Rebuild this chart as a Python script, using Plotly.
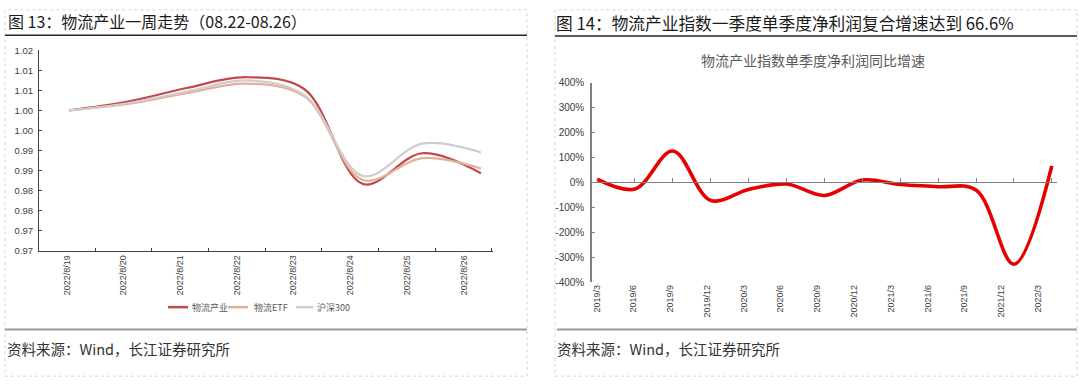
import plotly.graph_objects as go

# ---------------- data ----------------
dates_l = ["2022/8/19", "2022/8/20", "2022/8/21", "2022/8/22",
           "2022/8/23", "2022/8/24", "2022/8/25", "2022/8/26"]
logistics_ind = [1.005, 1.0072, 1.0106, 1.0133, 1.0103, 0.9866, 0.9943, 0.9893]
logistics_etf = [1.005, 1.0066, 1.0093, 1.0117, 1.0085, 0.9876, 0.9931, 0.9905]
hs300 = [1.005, 1.0068, 1.0097, 1.0125, 1.0088, 0.9886, 0.9967, 0.9945]
ytick_vals_l = [0.97, 0.975, 0.98, 0.985, 0.99, 0.995, 1.00, 1.005, 1.01, 1.015, 1.02]
ytick_text_l = ["0.97", "0.97", "0.98", "0.98", "0.99", "0.99", "1.00", "1.00", "1.01", "1.01", "1.02"]

quarters = ["2019/3", "2019/6", "2019/9", "2019/12", "2020/3", "2020/6", "2020/9",
            "2020/12", "2021/3", "2021/6", "2021/9", "2021/12", "2022/3"]
profit_growth = [13, -26, 126, -72, -28, -6, -52, 10, -8, -17, -30, -328, 66.6]
ytick_vals_r = [-400, -300, -200, -100, 0, 100, 200, 300, 400]
ytick_text_r = ["-400%", "-300%", "-200%", "-100%", "0%", "100%", "200%", "300%", "400%"]

series_l = [("物流产业", logistics_ind, "#C4484A"),
            ("物流ETF", logistics_etf, "#E3B09C"),
            ("沪深300", hs300, "#CDCDCD")]

W, H = 1080, 386
def px(x): return x / W
def py(y): return 1 - y / H

CJK = "Noto Sans CJK SC"
LAT = "Liberation Sans, Arial"

fig = go.Figure()

# ---------------- left chart ----------------
for name, vals, col in series_l:
    fig.add_trace(go.Scatter(x=dates_l, y=vals, name=name, mode="lines",
                             line=dict(color=col, width=2.2, shape="spline", smoothing=1.0),
                             xaxis="x", yaxis="y", showlegend=False, hoverinfo="skip"))
# label axis carrier (invisible)
fig.add_trace(go.Scatter(x=dates_l, y=logistics_ind, mode="markers", marker=dict(opacity=0),
                         xaxis="x3", yaxis="y", showlegend=False, hoverinfo="skip"))

# ---------------- right chart ----------------
fig.add_trace(go.Scatter(x=quarters, y=profit_growth, mode="lines",
                         line=dict(color="#E60000", width=3.6, shape="spline", smoothing=1.0),
                         xaxis="x2", yaxis="y2", showlegend=False, hoverinfo="skip"))
fig.add_trace(go.Scatter(x=quarters, y=profit_growth, mode="markers", marker=dict(opacity=0),
                         xaxis="x4", yaxis="y2", showlegend=False, hoverinfo="skip"))

yl0, yl1 = py(251.7), py(45.7)
yr0, yr1 = py(284.3), py(79)

fig.update_layout(
    width=W, height=H, margin=dict(l=0, r=0, t=0, b=0),
    paper_bgcolor="white", plot_bgcolor="rgba(0,0,0,0)",
    font=dict(family=LAT, color="#404040"),
    xaxis=dict(domain=[px(39), px(493)], anchor="y", type="category",
               range=[-0.51, 7.204], visible=False),
    xaxis3=dict(domain=[px(39), px(493)], anchor="y", overlaying="x", type="category",
                range=[-0.489, 7.518], tickson="boundaries", ticks="inside", ticklen=3,
                tickcolor="#404040", showline=True, linecolor="#404040", linewidth=1,
                tickangle=-90, tickfont=dict(size=9, color="#404040", family=LAT),
                showgrid=False, zeroline=False),
    yaxis=dict(domain=[yl0, yl1], anchor="x", range=[0.97, 1.02],
               tickmode="array", tickvals=ytick_vals_l, ticktext=ytick_text_l,
               ticks="inside", ticklen=3, tickcolor="#404040", ticklabelstandoff=3,
               showline=True, linecolor="#404040", linewidth=1,
               tickfont=dict(size=9.5, color="#404040", family=LAT),
               showgrid=False, zeroline=False),
    xaxis2=dict(domain=[px(592), px(1057)], anchor="free", position=(yr0 + yr1) / 2,
                type="category", range=[-0.132, 12.137], showline=True,
                linecolor="#808080", linewidth=1.2, ticks="inside", ticklen=4,
                tickcolor="#808080", showticklabels=False, showgrid=False, zeroline=False),
    xaxis4=dict(domain=[px(592), px(1057)], anchor="y2", overlaying="x2", type="category",
                range=[-0.128, 12.52], showline=False, ticks="", tickangle=-90,
                tickfont=dict(size=9, color="#404040", family=LAT),
                showgrid=False, zeroline=False),
    yaxis2=dict(domain=[yr0, yr1], anchor="x2", range=[-400, 400],
                tickmode="array", tickvals=ytick_vals_r, ticktext=ytick_text_r,
                ticks="inside", ticklen=3, tickcolor="#808080", ticklabelstandoff=4,
                showline=True, linecolor="#808080", linewidth=1.5,
                tickfont=dict(size=10, color="#404040", family=LAT),
                showgrid=False, zeroline=False),
)

shapes = []
# panel borders (dashed)
for x0, x1 in [(5, 527), (555, 1077)]:
    shapes.append(dict(type="rect", xref="paper", yref="paper", x0=px(x0), x1=px(x1),
                       y0=py(381), y1=py(4), line=dict(color="#D4D4D4", width=1, dash="dot")))
# title underlines
shapes.append(dict(type="line", xref="paper", yref="paper", x0=px(5), x1=px(527),
                   y0=py(30), y1=py(30), line=dict(color="#262626", width=1.5)))
shapes.append(dict(type="line", xref="paper", yref="paper", x0=px(555), x1=px(1077),
                   y0=py(31), y1=py(31), line=dict(color="#262626", width=1.5)))
# source separators
shapes.append(dict(type="line", xref="paper", yref="paper", x0=px(5), x1=px(527),
                   y0=py(333), y1=py(333), line=dict(color="#9A9A9A", width=2)))
shapes.append(dict(type="line", xref="paper", yref="paper", x0=px(557), x1=px(1077),
                   y0=py(333), y1=py(333), line=dict(color="#9A9A9A", width=2)))
# manual legend samples
legend_pos = [(168, 188, 190), (228, 248, 252), (296, 313, 315)]
annotations = []
for (name, vals, col), (lx0, lx1, tx) in zip(series_l, legend_pos):
    shapes.append(dict(type="line", xref="paper", yref="paper", x0=px(lx0), x1=px(lx1),
                       y0=py(310), y1=py(310), line=dict(color=col, width=2.5)))
    annotations.append(dict(text=name, xref="paper", yref="paper", x=px(tx), y=py(310),
                            xanchor="left", yanchor="middle", showarrow=False,
                            font=dict(family=CJK, size=9, color="#595959")))

annotations += [
    dict(text="图 13：物流产业一周走势（08.22-08.26）", xref="paper", yref="paper",
         x=px(6), y=py(15.5), xanchor="left", yanchor="middle", showarrow=False,
         font=dict(family=CJK, size=16, color="#1A1A1A")),
    dict(text="图 14：物流产业指数一季度单季度净利润复合增速达到 66.6%", xref="paper", yref="paper",
         x=px(554), y=py(18), xanchor="left", yanchor="middle", showarrow=False,
         font=dict(family=CJK, size=16.7, color="#1A1A1A")),
    dict(text="物流产业指数单季度净利润同比增速", xref="paper", yref="paper",
         x=px(813), y=py(56), xanchor="center", yanchor="middle", showarrow=False,
         font=dict(family=CJK, size=14, color="#595959")),
    dict(text="资料来源：Wind，长江证券研究所", xref="paper", yref="paper",
         x=px(5), y=py(353), xanchor="left", yanchor="middle", showarrow=False,
         font=dict(family=CJK, size=14.5, color="#333333")),
    dict(text="资料来源：Wind，长江证券研究所", xref="paper", yref="paper",
         x=px(555), y=py(353), xanchor="left", yanchor="middle", showarrow=False,
         font=dict(family=CJK, size=14.5, color="#333333")),
]

fig.update_layout(shapes=shapes, annotations=annotations)
fig.write_html("out.html", config={"displayModeBar": False},
               post_script="document.body.style.margin='0';document.body.style.overflow='hidden';")
